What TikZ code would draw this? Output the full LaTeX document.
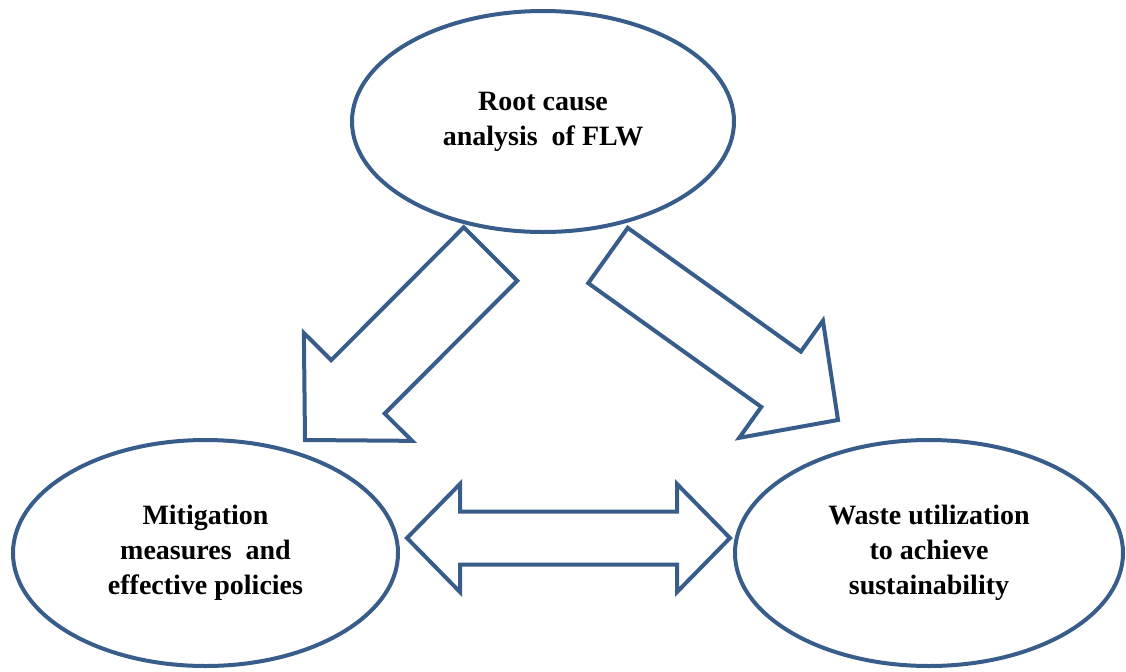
\documentclass[tikz,border=0pt]{standalone}
\usepackage{fontspec}
\setmainfont{Liberation Serif}
\usepackage{tikz}
\usetikzlibrary{calc,shapes.geometric}
\definecolor{outline}{HTML}{385D8A}

% Block arrow: tail, tip, shaft half-width, head half-width, head length.
\newcommand{\blockarrow}[5]{%
  \draw[blockline]
    ($(#1)!#3!90:(#2)$) -- ($(#2)!#5!(#1)!#3!-90:(#1)$)
    -- ($(#2)!#5!(#1)!#4!-90:(#1)$) -- (#2)
    -- ($(#2)!#5!(#1)!#4!90:(#1)$) -- ($(#2)!#5!(#1)!#3!90:(#1)$)
    -- ($(#1)!#3!-90:(#2)$) -- cycle;
}
% Double block arrow: both tips, shaft half-width, head half-width, head length.
\newcommand{\twowayarrow}[5]{%
  \draw[blockline]
    (#1) -- ($(#1)!#5!(#2)!#4!90:(#2)$) -- ($(#1)!#5!(#2)!#3!90:(#2)$)
    -- ($(#2)!#5!(#1)!#3!-90:(#1)$) -- ($(#2)!#5!(#1)!#4!-90:(#1)$)
    -- (#2)
    -- ($(#2)!#5!(#1)!#4!90:(#1)$) -- ($(#2)!#5!(#1)!#3!90:(#1)$)
    -- ($(#1)!#5!(#2)!#3!-90:(#2)$) -- ($(#1)!#5!(#2)!#4!-90:(#2)$)
    -- cycle;
}

\begin{document}
\begin{tikzpicture}[x=0.5pt,y=-0.5pt,
  topic/.style={ellipse,draw=outline,line width=2pt,inner sep=0pt,align=center,
    font=\fontsize{14}{17.5}\selectfont\bfseries},
  blockline/.style={draw=outline,fill=white,line width=2pt,line join=miter}]
  \useasboundingbox (0,0) rectangle (1126,671);

  % The three topics.
  \node[topic,minimum width=191pt,minimum height=110.5pt] (rootcause) at (543,121.5)
    {Root cause\\analysis\ \ of FLW};
  \node[topic,minimum width=192.5pt,minimum height=113pt] (mitigation) at (205.5,553)
    {Mitigation\\measures\ \ and\\effective policies};
  \node[topic,minimum width=194pt,minimum height=113pt] (wasteuse) at (929,553)
    {Waste utilization\\to achieve\\sustainability};

  % Arrow ends.
  \coordinate (lefttail) at (490.5,254);
  \coordinate (lefttip) at (305,440);
  \coordinate (righttail) at (608,255.5);
  \coordinate (righttip) at (838,420);
  \coordinate (linkleft) at (407,538);
  \coordinate (linkright) at (730,538);

  \blockarrow{lefttail}{lefttip}{18.9pt}{38.2pt}{37.5pt}
  \blockarrow{righttail}{righttip}{17pt}{36pt}{35pt}
  \twowayarrow{linkleft}{linkright}{13.25pt}{27pt}{26.5pt}
\end{tikzpicture}
\end{document}
